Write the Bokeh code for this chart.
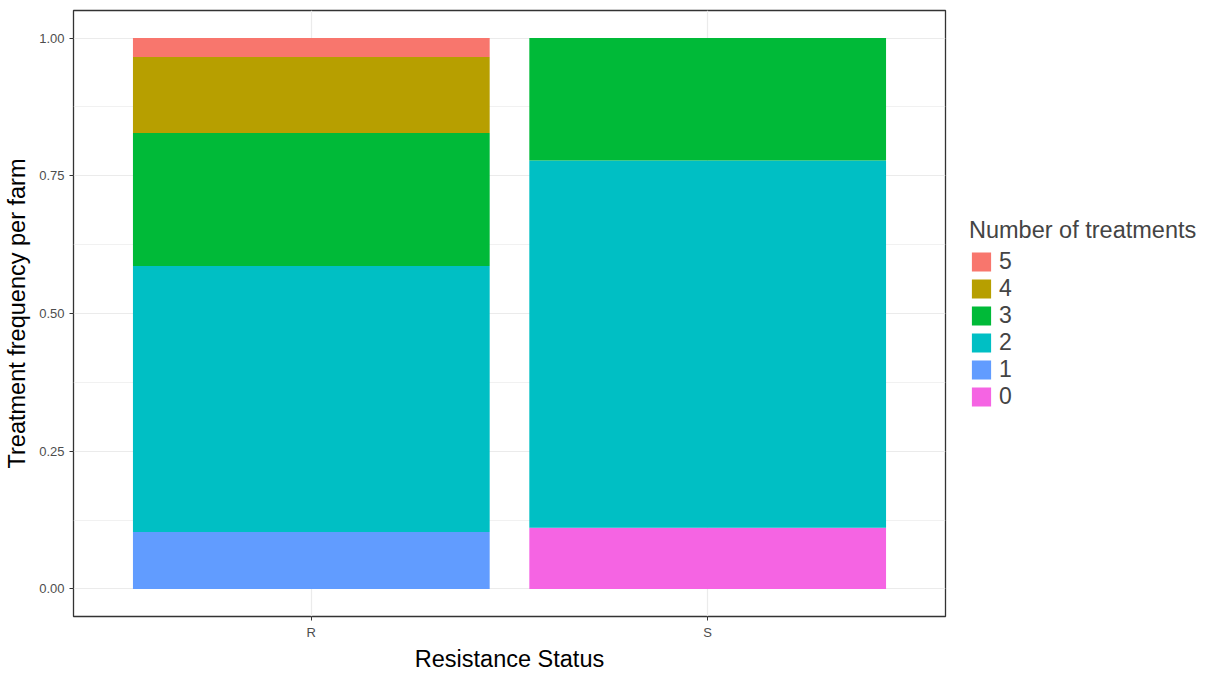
from bokeh.plotting import figure
from bokeh.models import (ColumnDataSource, FixedTicker, Legend, LegendItem)
from bokeh.embed import file_html
from bokeh.resources import INLINE

# ---- data (fractions of farms per treatment count) ----
statuses = ["R", "S"]
levels = ["0", "1", "2", "3", "4", "5"]
R_counts = [0, 3, 14, 7, 4, 1]   # out of 29 farms
S_counts = [1, 0, 6, 2, 0, 0]    # out of 9 farms
colors = {"5": "#F8766D", "4": "#B79F00", "3": "#00BA38",
          "2": "#00BFC4", "1": "#619CFF", "0": "#F564E3"}
y_ticks = [0.0, 0.25, 0.5, 0.75, 1.0]
y_tick_labels = ["0.00", "0.25", "0.50", "0.75", "1.00"]

FONT = "Liberation Sans"

data = {"x": [i + 1 for i in range(len(statuses))]}
for k, lev in enumerate(levels):
    data[lev] = [R_counts[k] / sum(R_counts), S_counts[k] / sum(S_counts)]
source = ColumnDataSource(data)

p = figure(frame_width=872, frame_height=606, x_range=(0.4, 2.6), y_range=(-0.05, 1.05),
           output_backend="svg", toolbar_location=None,
           min_border_left=73, min_border_top=10, min_border_bottom=0, min_border_right=0)

rs = p.vbar_stack(levels, x="x", width=0.9, source=source,
                  color=[colors[l] for l in levels], line_color=None)

# axes
p.xaxis.ticker = FixedTicker(ticks=data["x"])
p.xaxis.major_label_overrides = {i + 1: s for i, s in enumerate(statuses)}
p.yaxis.ticker = FixedTicker(ticks=y_ticks, minor_ticks=[0.125, 0.375, 0.625, 0.875])
p.yaxis.major_label_overrides = {t: l for t, l in zip(y_ticks, y_tick_labels)}
p.xaxis.axis_label = "Resistance Status"
p.yaxis.axis_label = "Treatment frequency per farm"
for ax in (p.xaxis[0], p.yaxis[0]):
    ax.axis_line_color = None
    ax.major_tick_line_color = "#333333"
    ax.major_tick_line_width = 1
    ax.major_tick_out = 4
    ax.major_tick_in = 0
    ax.minor_tick_line_color = None
    ax.major_label_text_font = FONT
    ax.major_label_text_font_size = "13px"
    ax.major_label_text_color = "#4D4D4D"
    ax.axis_label_text_font = FONT
    ax.axis_label_text_font_size = "23.5px"
    ax.axis_label_text_font_style = "normal"
    ax.axis_label_text_color = "#000000"
p.xaxis.axis_label_standoff = 3
p.xaxis.major_label_standoff = 4
p.yaxis.axis_label_standoff = 6
p.yaxis.major_label_standoff = 5

p.xgrid.ticker = FixedTicker(ticks=data["x"])
p.xgrid.grid_line_color = "#EBEBEB"
p.xgrid.grid_line_width = 1.2
p.ygrid.grid_line_color = "#EBEBEB"
p.ygrid.grid_line_width = 1.2
p.ygrid.minor_grid_line_color = "#EBEBEB"
p.ygrid.minor_grid_line_width = 0.7

p.outline_line_color = "#333333"
p.outline_line_width = 1.3
p.background_fill_color = "white"
p.border_fill_color = "white"

# legend (top to bottom: 5..0)
items = [LegendItem(label=lev, renderers=[rs[levels.index(lev)]]) for lev in reversed(levels)]
legend = Legend(items=items, location="center_left", title="Number of treatments",
                title_text_font=FONT, title_text_font_size="23.5px", title_text_font_style="normal",
                title_standoff=4, label_text_font=FONT, label_text_font_size="23px",
                glyph_width=24, glyph_height=24, label_height=24, label_standoff=6,
                spacing=0, padding=0, margin=24, border_line_color=None,
                background_fill_alpha=0)
p.add_layout(legend, "right")

open("out.html", "w").write(file_html(p, INLINE))
